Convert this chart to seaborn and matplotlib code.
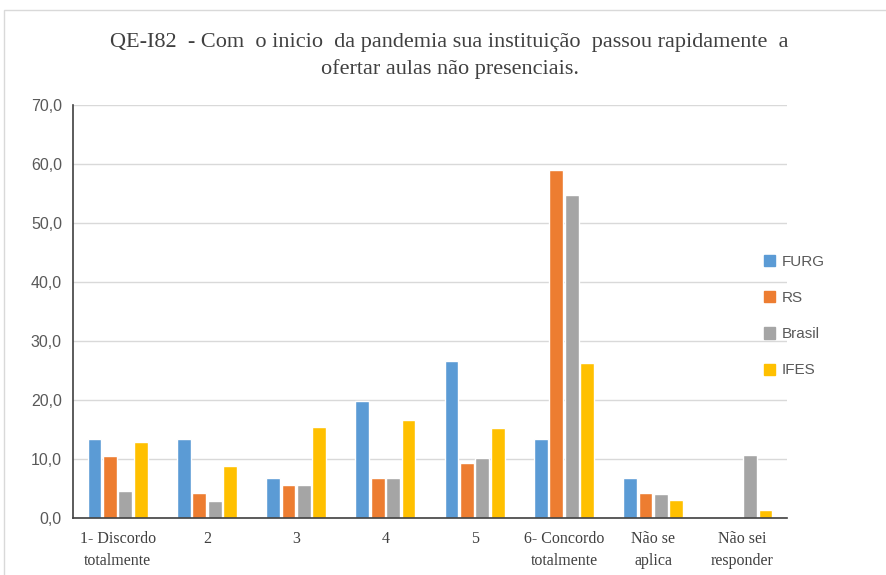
import matplotlib
matplotlib.use("Agg")
import matplotlib.pyplot as plt
import matplotlib.patches as mpatches
import seaborn as sns
import pandas as pd

categories = ["1- Discordo\ntotalmente", "2", "3", "4", "5",
              "6- Concordo\ntotalmente", "Não se\naplica", "Não sei\nresponder"]
furg = [13.4, 13.4, 6.7, 19.9, 26.6, 13.4, 6.7, 0.0]
rs = [10.5, 4.3, 5.6, 6.7, 9.4, 59.0, 4.3, 0.0]
brasil = [4.6, 2.9, 5.6, 6.7, 10.2, 54.7, 4.0, 10.7]
ifes = [12.9, 8.9, 15.5, 16.6, 15.3, 26.3, 3.0, 1.4]
series = ["FURG", "RS", "Brasil", "IFES"]
colors = ["#5B9BD5", "#ED7D31", "#A5A5A5", "#FFC000"]
yticks = [0, 10, 20, 30, 40, 50, 60, 70]
title = ("QE-I82  - Com  o inicio  da pandemia sua instituição  passou rapidamente  a\n"
         "ofertar aulas não presenciais.")

rows = []
for name, vals in zip(series, [furg, rs, brasil, ifes]):
    for c, v in zip(categories, vals):
        rows.append({"cat": c, "serie": name, "valor": v})
df = pd.DataFrame(rows)

sns.set_theme(style="white")
fig = plt.figure(figsize=(8.87, 5.75), dpi=100)
ax = fig.add_axes([0.0823, 0.0991, 0.805, 0.7183])

sns.barplot(data=df, x="cat", y="valor", hue="serie", order=categories,
            hue_order=series, palette=colors, width=0.69, gap=0.1,
            saturation=1, ax=ax, legend=False, errorbar=None)

ax.set_ylim(0, 70)
ax.set_yticks(yticks)
ax.set_yticklabels([f"{v:.1f}".replace(".", ",") for v in yticks],
                   fontsize=11.5, color="#595959", family="Liberation Sans")
ax.set_xticklabels(categories, fontsize=11.5, color="#404040",
                   family="Liberation Serif", linespacing=1.55)
ax.set_xlim(-0.5, len(categories) - 0.5)
ax.set_xlabel("")
ax.set_ylabel("")
ax.grid(axis="y", color="#D9D9D9", linewidth=1)
ax.set_axisbelow(True)
for s in ["top", "right"]:
    ax.spines[s].set_visible(False)
for s in ["left", "bottom"]:
    ax.spines[s].set_color("#404040")
    ax.spines[s].set_linewidth(1.2)
ax.tick_params(axis="y", length=0, pad=8)
ax.tick_params(axis="x", length=0, pad=9)

fig.text(0.507, 0.9026, title, ha="center", va="center", fontsize=16,
         family="Liberation Serif", color="#404040", linespacing=1.45)

handles = [mpatches.Patch(color=c, label=s) for s, c in zip(series, colors)]
fig.legend(handles=handles, loc="center left", bbox_to_anchor=(0.861, 0.45),
           frameon=False, prop={"family": "Liberation Sans", "size": 11},
           labelcolor="#595959", handlelength=0.75, handleheight=0.75,
           handletextpad=0.45, labelspacing=1.45, borderaxespad=0, borderpad=0)

fig.patches.append(mpatches.Rectangle((4 / 887, -0.01), 1.1, 1 - 10 / 575 + 0.01,
                                      transform=fig.transFigure, fill=False,
                                      edgecolor="#D9D9D9", linewidth=1))

fig.savefig("out.png", dpi=100)
